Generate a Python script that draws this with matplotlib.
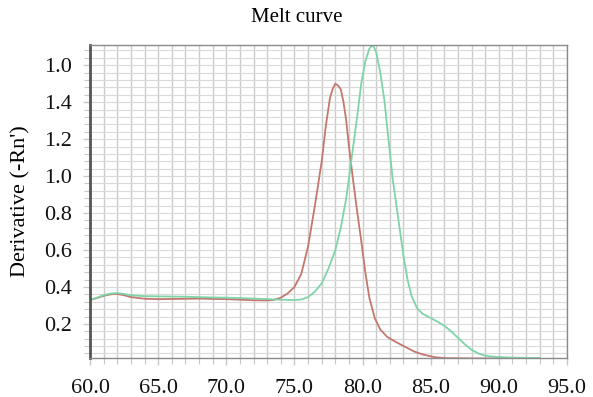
import numpy as np
import matplotlib
matplotlib.use("Agg")
import matplotlib.pyplot as plt
from matplotlib.ticker import MultipleLocator

plt.rcParams['font.family'] = ['Liberation Serif', 'DejaVu Serif']

# temperatura (°C) e derivada - amostra vermelha
temp_vermelho = [60.0, 60.5, 61.0, 61.5, 62.0, 62.5, 63.0, 64.0, 65.0, 66.0, 67.0, 68.0,
                 69.0, 70.0, 71.0, 72.0, 73.0, 73.5, 74.0, 74.5, 75.0, 75.5, 76.0, 76.5,
                 77.0, 77.3, 77.6, 77.8, 78.0, 78.2, 78.4, 78.6, 78.8, 79.0, 79.3, 79.6,
                 79.9, 80.2, 80.5, 80.9, 81.3, 81.8, 82.5, 83.1, 83.8, 84.5, 85.3, 86.0,
                 88.0, 90.0, 92.0, 93.0]
deriv_vermelho = [0.330, 0.340, 0.352, 0.360, 0.362, 0.355, 0.345, 0.336, 0.334, 0.335, 0.336, 0.337,
                  0.335, 0.334, 0.331, 0.328, 0.327, 0.330, 0.342, 0.365, 0.400, 0.47, 0.62, 0.84,
                  1.08, 1.27, 1.42, 1.47, 1.50, 1.49, 1.47, 1.40, 1.30, 1.16, 0.98, 0.81,
                  0.65, 0.48, 0.34, 0.23, 0.17, 0.13, 0.10, 0.077, 0.05, 0.033, 0.02, 0.015,
                  0.013, 0.013, 0.012, 0.012]

# amostra verde
temp_verde = [60.0, 60.5, 61.0, 61.5, 62.0, 62.5, 63.0, 64.0, 65.0, 66.0, 67.0, 68.0,
              69.0, 70.0, 71.0, 72.0, 73.0, 74.0, 75.0, 75.5, 76.0, 76.5, 77.0, 77.5,
              78.0, 78.4, 78.8, 79.2, 79.6, 79.9, 80.2, 80.5, 80.75, 81.0, 81.3, 81.6,
              81.9, 82.2, 82.6, 83.0, 83.3, 83.6, 84.0, 84.4, 85.0, 85.5, 86.0, 86.5,
              87.0, 87.5, 88.0, 88.5, 89.0, 89.7, 90.5, 91.5, 93.0]
deriv_verde = [0.330, 0.342, 0.356, 0.364, 0.367, 0.362, 0.355, 0.350, 0.349, 0.348, 0.347, 0.345,
               0.343, 0.342, 0.340, 0.337, 0.334, 0.331, 0.329, 0.332, 0.345, 0.375, 0.42, 0.50,
               0.60, 0.72, 0.88, 1.10, 1.32, 1.50, 1.62, 1.69, 1.71, 1.67, 1.56, 1.41,
               1.20, 0.99, 0.78, 0.57, 0.44, 0.35, 0.285, 0.255, 0.232, 0.212, 0.190, 0.160,
               0.125, 0.090, 0.060, 0.040, 0.028, 0.022, 0.019, 0.017, 0.015]

x_ticks = [60.0, 65.0, 70.0, 75.0, 80.0, 85.0, 90.0, 95.0]
y_ticks = [0.2, 0.4, 0.6, 0.8, 1.0, 1.2, 1.4, 1.6]
y_labels = ["0.2", "0.4", "0.6", "0.8", "1.0", "1.2", "1.4", "1.0"]  # como no original

fig = plt.figure(figsize=(5.93, 3.97), dpi=100)
ax = fig.add_axes([0.152, 0.098, 0.804, 0.789])

# grade
ax.xaxis.set_minor_locator(MultipleLocator(1.0))
ax.yaxis.set_minor_locator(MultipleLocator(0.04))
ax.grid(which='both', axis='x', color='#cbcbcb', linewidth=1.0)
ax.grid(which='both', axis='y', color='#dadada', linewidth=0.8)
ax.set_axisbelow(True)

ax.plot(temp_vermelho, deriv_vermelho, color='#c4776f', linewidth=1.3)
ax.plot(temp_verde, deriv_verde, color='#7fd4a8', linewidth=1.3)

ax.set_xlim(60, 95)
ax.set_ylim(0.015, 1.71)
ax.set_xticks(x_ticks)
ax.set_xticklabels([f"{v:.1f}" for v in x_ticks])
ax.set_yticks(y_ticks)
ax.set_yticklabels(y_labels)

ax.tick_params(which='both', direction='out', color='#c8c8c8', labelsize=16,
               labelcolor='#111111')
ax.tick_params(which='major', length=5, width=1)
ax.tick_params(which='minor', length=4, width=0.8)
ax.tick_params(axis='x', pad=10)
ax.tick_params(axis='y', pad=8)

for lado in ['top', 'right', 'bottom']:
    ax.spines[lado].set_color('#8a8a8a')
    ax.spines[lado].set_linewidth(1.0)
ax.spines['left'].set_color('#555555')
ax.spines['left'].set_linewidth(2.0)

ax.set_ylabel("Derivative (-Rn')", fontsize=16, labelpad=10)
fig.text(0.5, 0.955, "Melt curve", fontsize=15, ha='center', va='center')

fig.savefig("out.png", dpi=100)
